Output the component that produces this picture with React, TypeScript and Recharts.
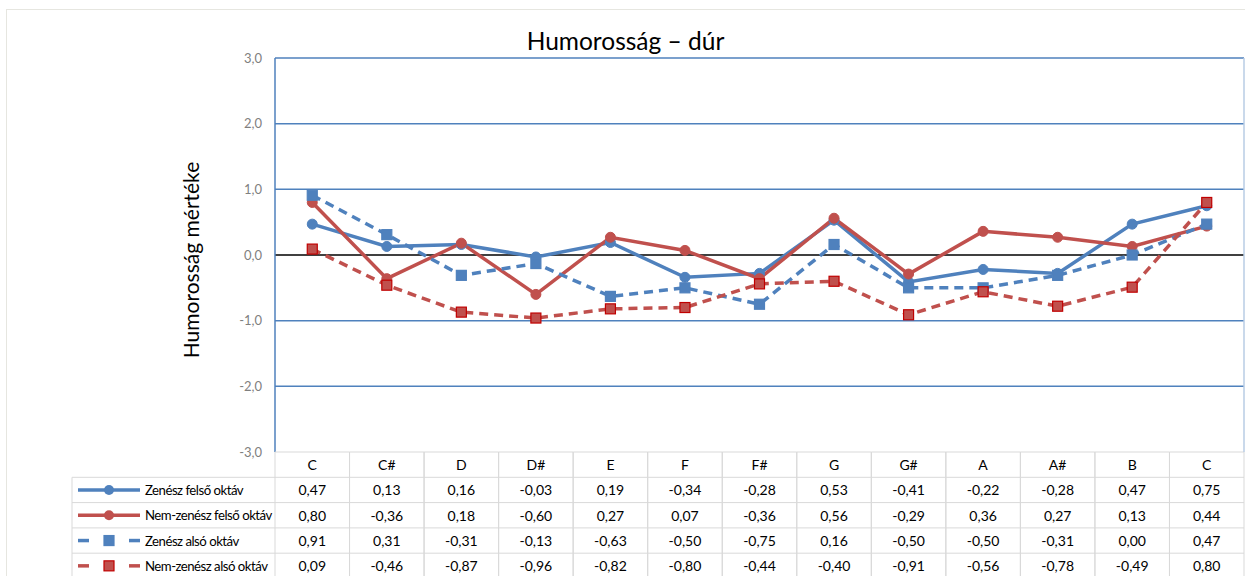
import { LineChart, Line, XAxis, YAxis, ReferenceLine } from 'recharts';

const categories = ['C', 'C#', 'D', 'D#', 'E', 'F', 'F#', 'G', 'G#', 'A', 'A#', 'B', 'C'];
const zeneszFelso = [0.47, 0.13, 0.16, -0.03, 0.19, -0.34, -0.28, 0.53, -0.41, -0.22, -0.28, 0.47, 0.75];
const nemZeneszFelso = [0.8, -0.36, 0.18, -0.6, 0.27, 0.07, -0.36, 0.56, -0.29, 0.36, 0.27, 0.13, 0.44];
const zeneszAlso = [0.91, 0.31, -0.31, -0.13, -0.63, -0.5, -0.75, 0.16, -0.5, -0.5, -0.31, 0.0, 0.47];
const nemZeneszAlso = [0.09, -0.46, -0.87, -0.96, -0.82, -0.8, -0.44, -0.4, -0.91, -0.56, -0.78, -0.49, 0.8];
const yTicks = [-3, -2, -1, 0, 1, 2, 3];

const BLUE = '#4F81BD';
const RED = '#C0504D';
const FONT = 'Lato, "Liberation Sans", sans-serif';

const series = [
  { key: 'zf', name: 'Zenész felső oktáv', values: zeneszFelso, color: BLUE, dashed: false, square: false, border: BLUE },
  { key: 'nf', name: 'Nem-zenész felső oktáv', values: nemZeneszFelso, color: RED, dashed: false, square: false, border: RED },
  { key: 'za', name: 'Zenész alsó oktáv', values: zeneszAlso, color: BLUE, dashed: true, square: true, border: BLUE },
  { key: 'na', name: 'Nem-zenész alsó oktáv', values: nemZeneszAlso, color: RED, dashed: true, square: true, border: '#C00000' },
];

const data = categories.map((c, i) => {
  const row: any = { cat: c };
  series.forEach((s) => (row[s.key] = s.values[i]));
  return row;
});

// layout
const W = 1245;
const H = 576;
const PLOT_LEFT = 275;
const PLOT_RIGHT = 1244;
const PLOT_TOP = 58;
const PLOT_BOTTOM = 452;
const COL = (PLOT_RIGHT - PLOT_LEFT) / categories.length;
const ROW = 25.3;
const TABLE_LEFT = 72;
const GRID = '#D9D9D9';

const fmt = (v: number) => v.toFixed(2).replace('.', ',');

const squareDot = (fill: string, stroke: string) => (props: any) => {
  const { cx, cy, index } = props;
  if (cx == null || cy == null) return <g key={index} />;
  return <rect key={index} x={cx - 5} y={cy - 5} width={10} height={10} fill={fill} stroke={stroke} strokeWidth={1.2} />;
};

function Swatch({ s, y }: { s: any; y: number }) {
  const x0 = 78;
  const x1 = 140;
  const mid = (x0 + x1) / 2;
  return (
    <g>
      {s.dashed ? (
        <>
          <line x1={x0} x2={x0 + 11} y1={y} y2={y} stroke={s.color} strokeWidth={3.5} />
          <line x1={x1 - 11} x2={x1} y1={y} y2={y} stroke={s.color} strokeWidth={3.5} />
        </>
      ) : (
        <line x1={x0} x2={x1} y1={y} y2={y} stroke={s.color} strokeWidth={3.5} />
      )}
      {s.square ? (
        <rect x={mid - 5} y={y - 5} width={10} height={10} fill={s.color} stroke={s.border} strokeWidth={1.2} />
      ) : (
        <circle cx={mid} cy={y} r={5} fill={s.color} />
      )}
    </g>
  );
}

// each x tick draws one column of the data table; the first also draws the legend column
function TableTick(props: any) {
  const { x, payload } = props;
  const i = props.index ?? payload.index;
  const left = x - COL / 2;
  const right = x + COL / 2;
  const top = PLOT_BOTTOM;
  const bottom = top + ROW * 5;
  return (
    <g fontFamily={FONT} fontSize={14}>
      <line x1={left} x2={left} y1={top} y2={bottom} stroke={GRID} />
      <line x1={right} x2={right} y1={top} y2={bottom} stroke={GRID} />
      {[0, 1, 2, 3, 4].map((r) => (
        <line key={r} x1={left} x2={right} y1={top + r * ROW} y2={top + r * ROW} stroke={GRID} />
      ))}
      <text x={x} y={top + ROW / 2} textAnchor="middle" dominantBaseline="central" fill="#000">
        {categories[i]}
      </text>
      {series.map((s, r) => (
        <text key={s.key} x={x} y={top + ROW * (r + 1.5)} textAnchor="middle" dominantBaseline="central" fill="#000">
          {fmt(s.values[i])}
        </text>
      ))}
      {i === 0 && (
        <g>
          <line x1={TABLE_LEFT} x2={TABLE_LEFT} y1={top + ROW} y2={bottom} stroke={GRID} />
          {[1, 2, 3, 4].map((r) => (
            <line key={r} x1={TABLE_LEFT} x2={left} y1={top + r * ROW} y2={top + r * ROW} stroke={GRID} />
          ))}
          {series.map((s, r) => (
            <g key={s.key}>
              <Swatch s={s} y={top + ROW * (r + 1.5)} />
              <text
                x={145}
                y={top + ROW * (r + 1.5)}
                dominantBaseline="central"
                fill="#000"
                fontSize={13.2}
                letterSpacing={-0.5}
              >
                {s.name}
              </text>
            </g>
          ))}
        </g>
      )}
      {i === categories.length - 1 && (
        <line x1={right} x2={right} y1={PLOT_TOP} y2={top} stroke="#B9CDE5" strokeWidth={1.5} />
      )}
    </g>
  );
}

export default function App() {
  return (
    <div style={{ position: 'absolute', left: 0, top: 0, width: W, height: H, background: '#fff', overflow: 'hidden' }}>
      <div style={{ position: 'absolute', left: 6, top: 9, width: W, height: H, border: '1px solid #E6E6E0', boxSizing: 'border-box' }} />
      <div
        style={{
          position: 'absolute',
          left: 6,
          width: W - 6,
          top: 25,
          textAlign: 'center',
          fontFamily: FONT,
          fontSize: 24.5,
          color: '#000',
          lineHeight: '32px',
        }}
      >
        Humorosság – dúr
      </div>
      <div
        style={{
          position: 'absolute',
          left: 190,
          top: 260,
          transform: 'translate(-50%, -50%) rotate(-90deg)',
          whiteSpace: 'nowrap',
          fontFamily: FONT,
          fontSize: 21,
          color: '#000',
        }}
      >
        Humorosság mértéke
      </div>
      <div style={{ position: 'absolute', left: 0, top: 0 }}>
        <LineChart
          width={W}
          height={H}
          data={data}
          margin={{ top: PLOT_TOP, right: W - PLOT_RIGHT, bottom: 0, left: PLOT_LEFT - 60 }}
        >
          <XAxis
            dataKey="cat"
            height={H - PLOT_BOTTOM}
            axisLine={false}
            tickLine={false}
            interval={0}
            padding={{ left: COL / 2, right: COL / 2 }}
            tick={<TableTick />}
          />
          <YAxis
            width={60}
            domain={[-3, 3]}
            ticks={yTicks}
            tickFormatter={(v: number) => v.toFixed(1).replace('.', ',')}
            tick={{ fill: '#7F7F7F', fontSize: 13, fontFamily: FONT }}
            tickLine={false}
            tickSize={0}
            tickMargin={13}
            axisLine={{ stroke: BLUE, strokeWidth: 1.5 }}
          />
          {[-2, -1, 1, 2, 3].map((v) => (
            <ReferenceLine key={v} y={v} stroke={BLUE} strokeWidth={1.5} />
          ))}
          <ReferenceLine y={0} stroke="#000" strokeWidth={1.5} />
          {series.map((s) => (
            <Line
              key={s.key}
              type="linear"
              dataKey={s.key}
              name={s.name}
              stroke={s.color}
              strokeWidth={3.5}
              strokeDasharray={s.dashed ? '9 6' : undefined}
              dot={s.square ? squareDot(s.color, s.border) : { r: 5, fill: s.color, stroke: s.color, strokeWidth: 1 }}
              activeDot={false}
              isAnimationActive={false}
            />
          ))}
        </LineChart>
      </div>
    </div>
  );
}
